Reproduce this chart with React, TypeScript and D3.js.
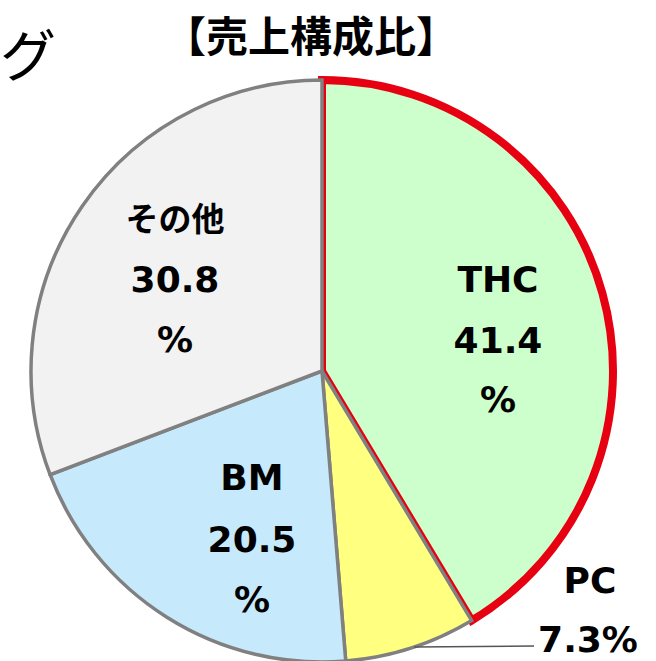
import React from "react";
import * as d3 from "d3";

const categories = ["THC", "PC", "BM", "その他"];
const values = [41.4, 7.3, 20.5, 30.8];
const fills = ["#ccffcc", "#ffff80", "#c6e9fc", "#f2f2f2"];
const title = "【売上構成比】";
const cornerText = "グ";

const W = 656;
const H = 661;
const cx = 322;
const cy = 371;
const R = 291;

const FONT = "'DejaVu Sans', 'Noto Sans CJK JP', sans-serif";

export default function App() {
  const pie = d3
    .pie<number>()
    .value((d) => d)
    .sort(null)
    .startAngle(0)
    .endAngle(2 * Math.PI);
  const arcs = pie(values);
  const arcGen = d3.arc<d3.PieArcDatum<number>>().innerRadius(0).outerRadius(R);

  const order = [0, 1, 2, 3];
  const leaderY = 647;
  const leaderX1 = cx + Math.sqrt(R * R - (leaderY - cy) * (leaderY - cy));

  return (
    <svg
      width={W}
      height={H}
      style={{ position: "absolute", left: 0, top: 0, background: "#fff" }}
      fontFamily={FONT}
    >
      <text
        x={0}
        y={76}
        textAnchor="start"
        fontSize={56}
        fontFamily="'Noto Sans CJK JP', sans-serif"
        fill="#000"
      >
        {cornerText}
      </text>
      <text
        x={311}
        y={52}
        textAnchor="middle"
        fontSize={42}
        fontWeight="bold"
        fontFamily="'Noto Sans CJK JP', sans-serif"
        fill="#000"
      >
        {title}
      </text>
      <g transform={`translate(${cx},${cy})`}>
        {order.map((i) => (
          <path
            key={i}
            d={arcGen(arcs[i]) || ""}
            fill={fills[i]}
            stroke={i === 0 ? "#e60012" : "#808080"}
            strokeWidth={i === 0 ? 8 : 3.5}
            strokeLinejoin="miter"
          />
        ))}
      </g>
      <line
        x1={leaderX1}
        y1={leaderY}
        x2={534}
        y2={646}
        stroke="#555"
        strokeWidth={1.5}
      />
      <g fontSize={36} fontWeight="bold" fill="#000" textAnchor="middle">
        <text x={498} y={292}>{categories[0]}</text>
        <text x={498} y={353}>{`${values[0]}`}</text>
        <text x={498} y={412}>%</text>

        <text x={175} y={231} fontFamily="'Noto Sans CJK JP', sans-serif" fontSize={33}>
          {categories[3]}
        </text>
        <text x={175} y={292}>{`${values[3]}`}</text>
        <text x={175} y={352}>%</text>

        <text x={252} y={490}>{categories[2]}</text>
        <text x={252} y={552}>{`${values[2]}`}</text>
        <text x={252} y={612}>%</text>

        <text x={590} y={593}>{categories[1]}</text>
        <text x={588} y={652}>{`${values[1]}%`}</text>
      </g>
    </svg>
  );
}
